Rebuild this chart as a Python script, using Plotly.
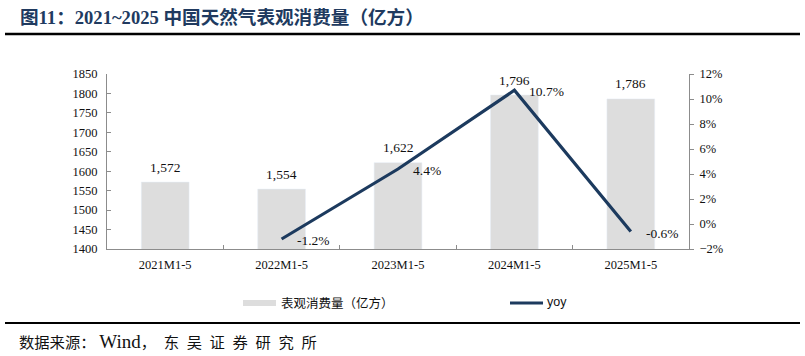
import plotly.graph_objects as go

categories = ["2021M1-5", "2022M1-5", "2023M1-5", "2024M1-5", "2025M1-5"]
consumption = [1572, 1554, 1622, 1796, 1786]
yoy_cats = ["2022M1-5", "2023M1-5", "2024M1-5", "2025M1-5"]
yoy = [-1.2, 4.4, 10.7, -0.6]

SERIF = "Liberation Serif, Times New Roman, Noto Serif CJK SC, serif"
CJK = "Noto Sans CJK SC, sans-serif"
NAVY = "#1c3a5e"
GRAY = "#dddddd"
AX = "#8c8c8c"

fig = go.Figure()
fig.add_trace(go.Bar(x=categories, y=consumption, marker_color=GRAY, width=0.41,
                     name="表观消费量（亿方）", showlegend=False, yaxis="y"))
fig.add_trace(go.Scatter(x=yoy_cats, y=yoy, mode="lines", line=dict(color=NAVY, width=3.2),
                         name="yoy", showlegend=False, yaxis="y2"))

ann = []
for c, v in zip(categories, consumption):
    ann.append(dict(x=c, y=v, xref="x", yref="y", text=f"{v:,}", showarrow=False,
                    yshift=15, font=dict(family=SERIF, size=13.5, color="#111")))
for c, v in zip(yoy_cats, yoy):
    ann.append(dict(x=c, y=v, xref="x", yref="y2", text=f"{v}%", showarrow=False,
                    xanchor="left", xshift=13, yshift=-1.5,
                    font=dict(family=SERIF, size=13.5, color="#111")))

def px(x):
    return (x-107)/582
def py(y):
    return (249-y)/175

# title and source
ann.append(dict(x=px(18), y=py(18), xref="paper", yref="paper", xanchor="left",
                yanchor="middle", showarrow=False,
                text="<b>图11：2021~2025 中国天然气表观消费量（亿方）</b>",
                font=dict(family="Liberation Serif, Noto Sans CJK SC", size=18.6, color="#203a5f")))
sp = "\u2002"
ann.append(dict(x=px(17), y=py(341), xref="paper", yref="paper", xanchor="left",
                yanchor="middle", showarrow=False,
                text="数据来源： <span style=\"font-size:19px\">Wind</span>，" + sp + sp.join("东吴证券研究所"),
                font=dict(family="Liberation Serif, Noto Sans CJK SC", size=15.3, color="#111")))
# legend texts
ann.append(dict(x=px(279), y=py(302), xref="paper", yref="paper", xanchor="left",
                yanchor="middle", showarrow=False, text="表观消费量（亿方）",
                font=dict(family=CJK, size=12.5, color="#111")))
ann.append(dict(x=px(545), y=py(302), xref="paper", yref="paper", xanchor="left",
                yanchor="middle", showarrow=False, text="yoy",
                font=dict(family="Liberation Sans, Arial", size=12.5, color="#111")))

shapes = [
    dict(type="line", xref="paper", yref="paper", x0=px(5), x1=px(800), y0=py(34), y1=py(34),
         line=dict(color="#000", width=2.5)),
    dict(type="line", xref="paper", yref="paper", x0=px(5), x1=px(800), y0=py(323), y1=py(323),
         line=dict(color="#000", width=2)),
    dict(type="rect", xref="paper", yref="paper", x0=px(243), x1=px(276), y0=py(300), y1=py(306),
         fillcolor=GRAY, line=dict(width=0)),
    dict(type="line", xref="paper", yref="paper", x0=px(510), x1=px(543), y0=py(303), y1=py(303),
         line=dict(color=NAVY, width=3.2)),
]

fig.update_layout(
    width=805, height=356, margin=dict(l=107, r=116, t=74, b=107),
    plot_bgcolor="white", paper_bgcolor="white",
    annotations=ann, shapes=shapes, showlegend=False,
    xaxis=dict(type="category", categoryorder="array", categoryarray=categories,
               showline=True, linecolor=AX, linewidth=1, ticks="inside", ticklen=4, tickcolor=AX,
               tickson="boundaries", showgrid=False, ticklabelstandoff=4,
               tickfont=dict(family=SERIF, size=12.5, color="#111")),
    yaxis=dict(range=[1400, 1850], dtick=50, showline=True, linecolor=AX, linewidth=1,
               ticks="inside", ticklen=4, tickcolor=AX, showgrid=False, zeroline=False,
               ticklabelstandoff=6,
               tickfont=dict(family=SERIF, size=12.5, color="#111")),
    yaxis2=dict(range=[-2, 12], dtick=2, overlaying="y", side="right", showline=True,
                linecolor=AX, linewidth=1, ticks="outside", ticklen=4, tickcolor=AX,
                showgrid=False, zeroline=False, ticksuffix="%", ticklabelstandoff=3,
                tickfont=dict(family=SERIF, size=12.5, color="#111")),
    bargap=0.59,
)
fig.write_html("out.html")
